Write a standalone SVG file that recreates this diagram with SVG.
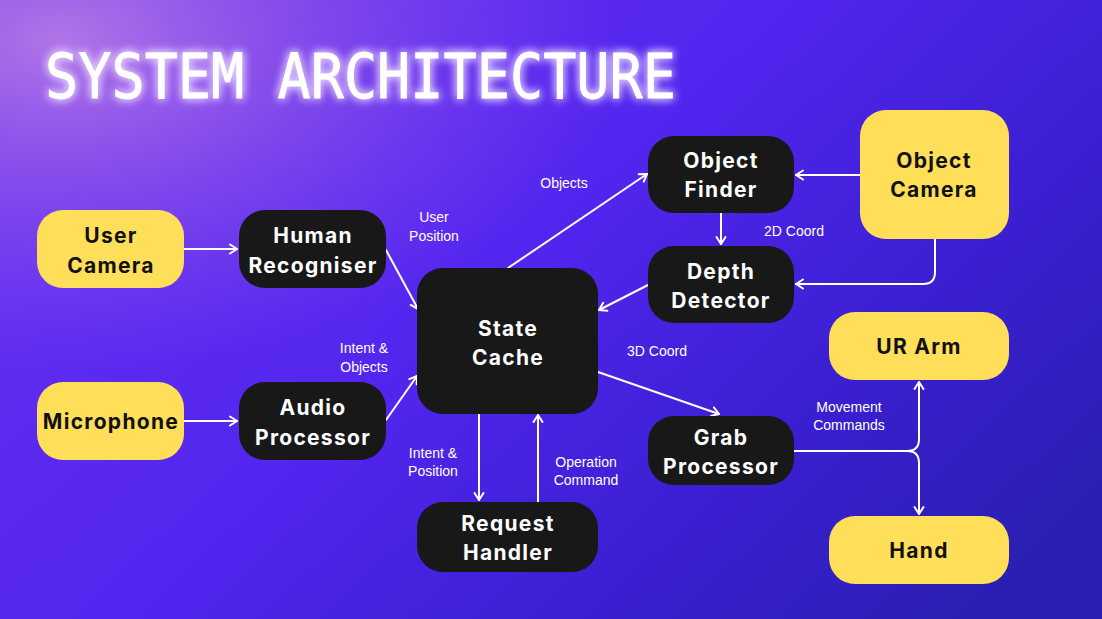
<svg xmlns="http://www.w3.org/2000/svg" width="1102" height="619" viewBox="0 0 1102 619">
<defs>
<linearGradient id="bg" x1="0" y1="0.2" x2="1" y2="0.8">
<stop offset="0" stop-color="#6630f2"/>
<stop offset="0.45" stop-color="#5225ee"/>
<stop offset="0.75" stop-color="#3a1fd0"/>
<stop offset="1" stop-color="#2a1fb2"/>
</linearGradient>
<radialGradient id="glow" cx="0" cy="0" r="1" gradientUnits="userSpaceOnUse" gradientTransform="translate(60 40) scale(560 330)">
<stop offset="0" stop-color="#b478e6" stop-opacity="0.95"/>
<stop offset="0.5" stop-color="#9a5ee8" stop-opacity="0.5"/>
<stop offset="1" stop-color="#8a50ec" stop-opacity="0"/>
</radialGradient>
<filter id="tglow" x="-10%" y="-50%" width="120%" height="200%">
<feGaussianBlur in="SourceAlpha" stdDeviation="5" result="b"/>
<feFlood flood-color="#e8d8ff" flood-opacity="0.9"/>
<feComposite operator="in" in2="b" result="g"/>
<feMerge><feMergeNode in="g"/><feMergeNode in="g"/><feMergeNode in="SourceGraphic"/></feMerge>
</filter>
<marker id="ah" viewBox="0 0 12 12" refX="10" refY="6" markerWidth="12" markerHeight="12" markerUnits="userSpaceOnUse" orient="auto">
<path d="M3,1.5 L10,6 L3,10.5" fill="none" stroke="#ffffff" stroke-width="2" stroke-linecap="round" stroke-linejoin="round"/>
</marker>
</defs>
<style>
.y{fill:#ffde59}
.k{fill:#181818}
.ty{font-family:Inter,"DejaVu Sans",sans-serif;font-weight:700;font-size:21px;letter-spacing:1.3px;fill:#111111;text-anchor:middle}
.tk{font-family:Inter,"DejaVu Sans",sans-serif;font-weight:700;font-size:21px;letter-spacing:1.3px;fill:#ffffff;text-anchor:middle}
.lb{font-family:"Liberation Sans",Arial,sans-serif;font-size:14px;fill:#ffffff;text-anchor:middle}
.c{fill:none;stroke:#ffffff;stroke-width:2;stroke-linecap:round}
.a{marker-end:url(#ah)}
</style>
<rect width="1102" height="619" fill="url(#bg)"/>
<rect width="1102" height="619" fill="url(#glow)"/>
<text x="45" y="98" font-family="DejaVu Sans Mono,monospace" font-size="62" fill="#ffffff" stroke="#ffffff" stroke-width="0.8" textLength="631" lengthAdjust="spacingAndGlyphs" filter="url(#tglow)">SYSTEM ARCHITECTURE</text>

<g id="connectors">
<path class="c a" d="M184,249 L237,249"/>
<path class="c a" d="M184,421 L237,421"/>
<path class="c a" d="M386,250 L418,309"/>
<path class="c a" d="M386,420 L417,376"/>
<path class="c a" d="M508,268 L647,174"/>
<path class="c a" d="M721,213 L721,244"/>
<path class="c a" d="M860,175 L796,175"/>
<path class="c a" d="M935,239 L935,272 Q935,284 923,284 L796,284"/>
<path class="c a" d="M648,285 L599,310"/>
<path class="c a" d="M598,372 L719,414"/>
<path class="c a" d="M479,414 L479,500"/>
<path class="c a" d="M538,502 L538,415"/>
<path class="c a" d="M794,451 L907,451 Q919,451 919,439 L919,382"/>
<path class="c a" d="M907,451 Q919,451 919,463 L919,514"/>
</g>

<g id="labels">
<text class="lb"><tspan x="434" y="222">User</tspan><tspan x="434" y="241">Position</tspan></text>
<text class="lb" x="564" y="188">Objects</text>
<text class="lb" x="794" y="236">2D Coord</text>
<text class="lb"><tspan x="364" y="353">Intent &amp;</tspan><tspan x="364" y="372">Objects</tspan></text>
<text class="lb" x="657" y="356">3D Coord</text>
<text class="lb"><tspan x="433" y="458">Intent &amp;</tspan><tspan x="433" y="476">Position</tspan></text>
<text class="lb"><tspan x="586" y="467">Operation</tspan><tspan x="586" y="485">Command</tspan></text>
<text class="lb"><tspan x="849" y="412">Movement</tspan><tspan x="849" y="430">Commands</tspan></text>
</g>

<g id="user-camera"><rect class="y" x="37" y="210" width="147" height="78" rx="26"/><text class="ty"><tspan x="111" y="243">User</tspan><tspan x="111" y="273">Camera</tspan></text></g>
<g id="microphone"><rect class="y" x="37" y="382" width="147" height="78" rx="26"/><text class="ty" x="111" y="429" letter-spacing="1.6">Microphone</text></g>
<g id="human-recogniser"><rect class="k" x="239" y="210" width="147" height="78" rx="26"/><text class="tk"><tspan x="313" y="243">Human</tspan><tspan x="313" y="273">Recogniser</tspan></text></g>
<g id="audio-processor"><rect class="k" x="239" y="382" width="147" height="78" rx="26"/><text class="tk"><tspan x="313" y="415">Audio</tspan><tspan x="313" y="445">Processor</tspan></text></g>
<g id="state-cache"><rect class="k" x="417" y="268" width="181" height="146" rx="26"/><text class="tk"><tspan x="508" y="336">State</tspan><tspan x="508" y="365">Cache</tspan></text></g>
<g id="request-handler"><rect class="k" x="417" y="502" width="181" height="70" rx="26"/><text class="tk"><tspan x="508" y="531">Request</tspan><tspan x="508" y="560">Handler</tspan></text></g>
<g id="object-finder"><rect class="k" x="648" y="136" width="146" height="77" rx="26"/><text class="tk"><tspan x="721" y="168">Object</tspan><tspan x="721" y="197">Finder</tspan></text></g>
<g id="depth-detector"><rect class="k" x="648" y="246" width="146" height="77" rx="26"/><text class="tk"><tspan x="721" y="279">Depth</tspan><tspan x="721" y="308">Detector</tspan></text></g>
<g id="grab-processor"><rect class="k" x="648" y="416" width="146" height="69" rx="26"/><text class="tk"><tspan x="721" y="445">Grab</tspan><tspan x="721" y="474">Processor</tspan></text></g>
<g id="object-camera"><rect class="y" x="860" y="110" width="149" height="129" rx="26"/><text class="ty"><tspan x="934" y="168">Object</tspan><tspan x="934" y="197">Camera</tspan></text></g>
<g id="ur-arm"><rect class="y" x="829" y="312" width="180" height="68" rx="26"/><text class="ty" x="919" y="354">UR Arm</text></g>
<g id="hand"><rect class="y" x="829" y="516" width="180" height="68" rx="26"/><text class="ty" x="919" y="558">Hand</text></g>
</svg>
